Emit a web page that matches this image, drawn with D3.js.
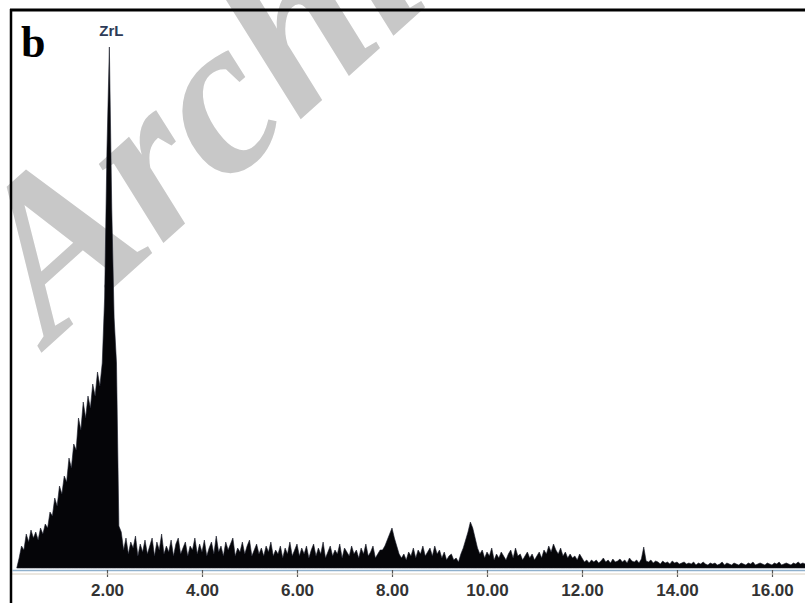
<!DOCTYPE html>
<html>
<head>
<meta charset="utf-8">
<script src="https://cdn.jsdelivr.net/npm/d3@7"></script>
<style>
  body { margin: 0; background: #fff; }
  svg { display: block; }
</style>
</head>
<body>
<div id="viz"></div>
<script>
// EDS spectrum, counts per 0.05 keV channel
var channelStep = 0.05;

var lowStart = 0.10;
var lowCounts = [
  0, 10, 22, 18, 34, 26, 38, 30, 36, 28,
  40, 34, 44, 40, 56, 52, 70, 62, 82, 74,
  92, 86, 110, 100, 124, 118, 150, 138, 166, 150,
  172, 160, 184, 172, 196, 182, 205, 270, 420, 521,
  360, 250, 205, 42
];

var midStart = 2.30;
var midCounts = [
  36, 18, 30, 14, 26, 20, 32, 12, 24, 16,
  28, 14, 22, 30, 12, 26, 18, 34, 14, 22,
  16, 28, 12, 24, 30, 14, 20, 26, 12, 22,
  18, 30, 14, 24, 16, 28, 12, 20, 26, 14,
  32, 16, 22, 12, 26, 18, 24, 30, 12, 20,
  16, 26, 14, 22, 28, 12, 18, 24, 14, 20,
  12, 22, 16, 26, 12, 18, 14, 22, 10, 20,
  14, 26, 12, 18, 24, 12, 20, 14, 22, 10
];

var highStart = 6.30;
var highCounts = [
  18, 24, 12, 20, 14, 26, 10, 16, 22, 12,
  18, 14, 24, 10, 20, 16, 12, 22, 14, 18,
  10, 20, 14, 24, 12, 16, 22, 10, 14, 18,
  18, 22, 28, 34, 40, 30, 22, 14, 10, 14,
  8, 16, 12, 20, 10, 18, 14, 22, 12, 16,
  20, 12, 22, 14, 18, 10, 16, 8, 12, 14,
  8, 10, 6, 14, 20, 28, 36, 46, 40, 30,
  20, 14, 18, 10, 16, 12, 20, 8, 14, 10,
  16, 12, 8, 14, 18, 10, 20, 12, 14, 8,
  12, 16, 10, 14, 8, 12, 16, 10, 18, 14,
  22, 16, 24, 18, 14, 20, 12, 16, 10, 14,
  10, 12, 8, 14, 10, 6, 8, 5, 8, 6
];

var tailStart = 12.30;
var tailCounts = [
  8, 5, 7, 10, 6, 8, 5, 9, 6, 7,
  9, 6, 8, 5, 10, 7, 6, 8, 5, 9,
  21, 7, 6, 8, 5, 7, 6, 4, 7, 5,
  6, 4, 7, 5, 6, 4, 5, 6, 4, 5,
  4, 6, 3, 5, 4, 6, 4, 3, 5, 4,
  5, 3, 4, 6, 3, 5, 4, 3, 5, 4,
  3, 5, 4, 3, 5, 4, 6, 3, 4, 5,
  4, 3, 5, 4, 3, 5, 4, 6, 3, 4,
  5, 4, 3, 5, 4, 6, 4, 5, 4
];

var tickValues = [2, 4, 6, 8, 10, 12, 14, 16];
var peakNames = ["ZrL"];
var peakEnergies = [2.05];
var panelLetter = "b";
var watermark = "Archive";

var width = 805, height = 603;

var points = [];
[[lowStart, lowCounts], [midStart, midCounts], [highStart, highCounts], [tailStart, tailCounts]]
  .forEach(function (seg) {
    seg[1].forEach(function (c, i) {
      points.push({ kev: seg[0] + i * channelStep, count: c });
    });
  });

var x = d3.scaleLinear().domain([0, 16.695]).range([12, 805]);
var y = d3.scaleLinear().domain([0, 560]).range([568, 8]);

var svg = d3.select("#viz").append("svg")
  .attr("width", width)
  .attr("height", height);

svg.append("rect").attr("width", width).attr("height", height).attr("fill", "#fff");

// watermark sits behind the spectrum
svg.append("text")
  .attr("transform", "translate(50,345) rotate(-42)")
  .attr("font-family", "Liberation Serif, Times New Roman, serif")
  .attr("font-style", "italic")
  .attr("font-weight", "bold")
  .attr("font-size", 222)
  .attr("fill", "#c8c8c8")
  .text(watermark);

var area = d3.area()
  .x(function (d) { return x(d.kev); })
  .y0(y(0))
  .y1(function (d) { return y(d.count); });

svg.append("path")
  .datum(points)
  .attr("d", area)
  .attr("fill", "#050508")
  .attr("stroke", "#1a1d2a")
  .attr("stroke-width", 0.6);

// axis
var axis = d3.axisBottom(x)
  .tickValues(tickValues)
  .tickFormat(d3.format(".2f"))
  .tickSize(7)
  .tickSizeOuter(0)
  .tickPadding(7);

var gAxis = svg.append("g")
  .attr("transform", "translate(0,570)")
  .call(axis);

gAxis.select(".domain").attr("stroke", "#8fb0cc").attr("stroke-width", 1.5);
gAxis.selectAll(".tick line").attr("stroke", "#555").attr("stroke-width", 1.2);
gAxis.selectAll(".tick text")
  .attr("font-family", "Arial, Liberation Sans, sans-serif")
  .attr("font-weight", "bold")
  .attr("font-size", 17)
  .attr("fill", "#333");

svg.append("line")
  .attr("x1", x(0)).attr("x2", width)
  .attr("y1", 574).attr("y2", 574)
  .attr("stroke", "#d8cfc0").attr("stroke-width", 1);

// peak label
svg.selectAll(".peak")
  .data(peakNames)
  .enter().append("text")
  .attr("class", "peak")
  .attr("x", function (d, i) { return x(peakEnergies[i]) + 2; })
  .attr("y", 36)
  .attr("text-anchor", "middle")
  .attr("font-family", "Arial, Liberation Sans, sans-serif")
  .attr("font-weight", "bold")
  .attr("font-size", 15)
  .attr("fill", "#2d3b58")
  .text(function (d) { return d; });

// frame
svg.append("line")
  .attr("x1", 10).attr("x2", width).attr("y1", 10).attr("y2", 10)
  .attr("stroke", "#000").attr("stroke-width", 3);
svg.append("line")
  .attr("x1", 11).attr("x2", 11).attr("y1", 9).attr("y2", height)
  .attr("stroke", "#000").attr("stroke-width", 2.5);

svg.append("text")
  .attr("x", 21).attr("y", 57)
  .attr("font-family", "Liberation Serif, Times New Roman, serif")
  .attr("font-weight", "bold")
  .attr("font-size", 44)
  .attr("fill", "#000")
  .text(panelLetter);
</script>
</body>
</html>
